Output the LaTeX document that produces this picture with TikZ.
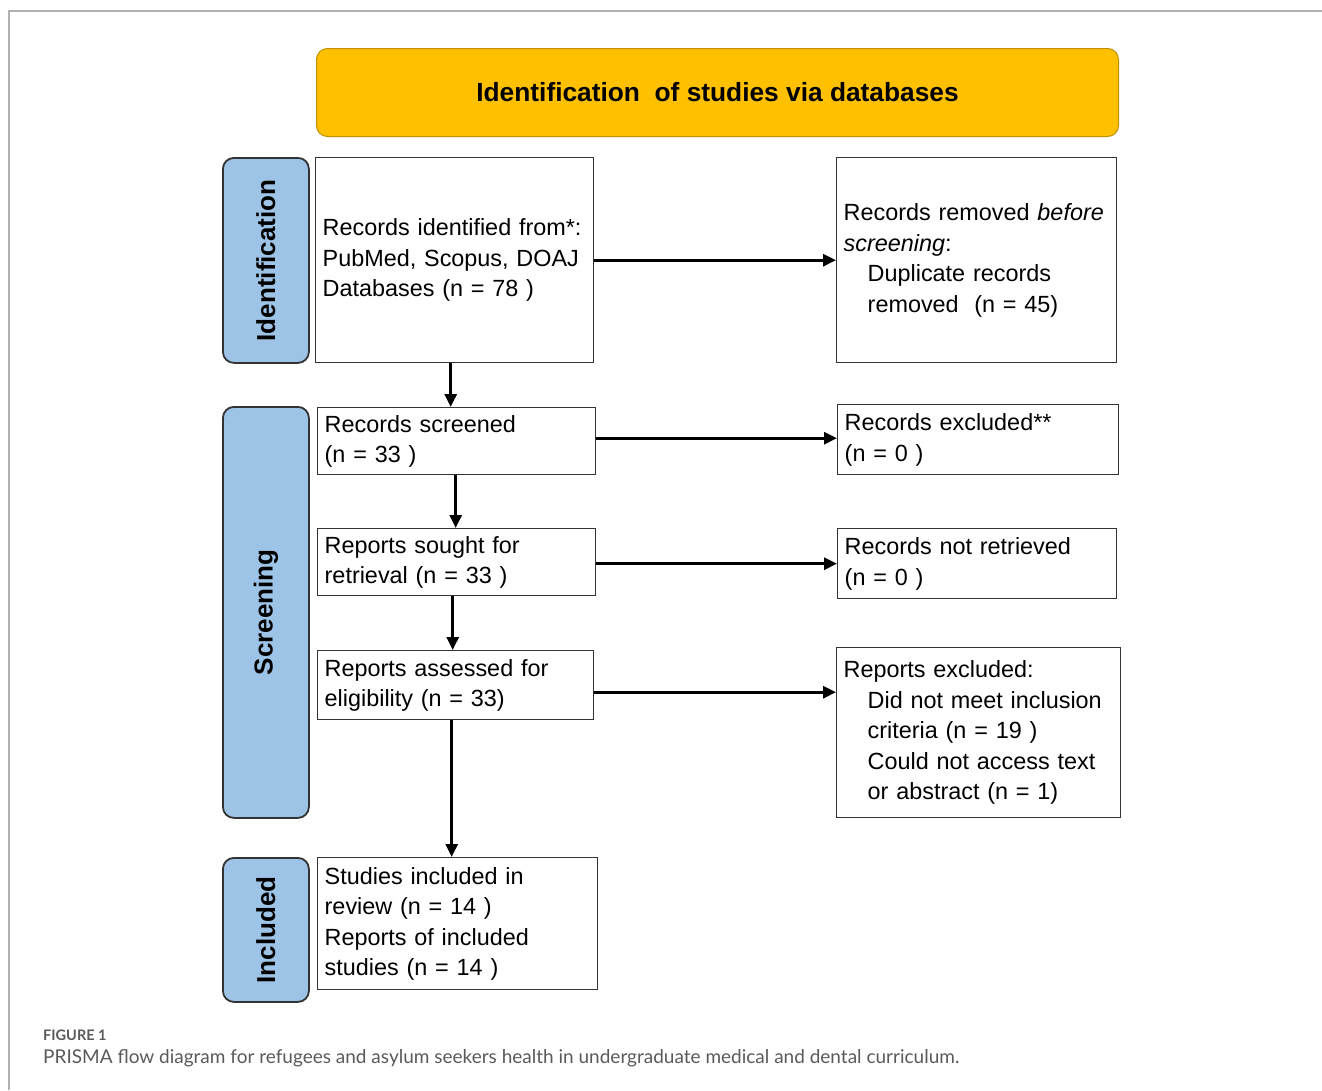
\documentclass[tikz,border=0pt]{standalone}
\usepackage{fontspec}
\setmainfont{Liberation Sans}
\newfontfamily\capfont{Lato}
\usetikzlibrary{arrows.meta}
\definecolor{hdr}{HTML}{FFC000}
\definecolor{hdrline}{HTML}{C09000}
\definecolor{barfill}{HTML}{9DC3E6}
\definecolor{edge}{HTML}{333333}
\definecolor{framecol}{HTML}{B0B0B0}
\definecolor{captxt}{HTML}{5A5A5A}
\begin{document}
\begin{tikzpicture}[x=1pt,y=-1pt,
  box/.style n args={2}{draw=edge,line width=1.4pt,anchor=north west,align=left,
    inner xsep=7pt,inner ysep=0pt,text width=#1,minimum height=#2,
    font=\fontsize{23.4}{30.5}\selectfont,text=black},
  sidebar/.style n args={2}{draw=edge,fill=barfill,line width=1.8pt,rounded corners=11pt,
    anchor=north west,inner sep=0pt,minimum width=#1,minimum height=#2},
  sidelabel/.style={rotate=90,font=\bfseries\fontsize{26}{30}\selectfont},
  arr/.style={line width=2.8pt,-{Triangle[length=13pt,width=12pt]}}]
\useasboundingbox (0,0) rectangle (1322,1090);
\draw[framecol,line width=1.5pt] (1322,11) -- (9,11) -- (9,1090);

% header
\node[draw=hdrline,fill=hdr,line width=1pt,rounded corners=11pt,anchor=north west,
  minimum width=802pt,minimum height=88pt,inner sep=0pt,
  font=\bfseries\fontsize{26.3}{30}\selectfont] (hdr) at (316,48)
  {Identification\ \ of studies via databases};

% side bars
\node[sidebar={86pt}{205pt}] (sbid) at (222,157) {};
\node[sidelabel] at (sbid.center) {Identification};
\node[sidebar={86pt}{411pt}] (sbscr) at (222,406) {};
\node[sidelabel] at (sbscr.center) {Screening};
\node[sidebar={86pt}{144pt}] (sbinc) at (222,857) {};
\node[sidelabel] at (sbinc.center) {Included};

% boxes
\node[box={264pt}{205pt}] (id1) at (315,157)
  {Records identified from*:\\PubMed, Scopus, DOAJ\\Databases (n = 78 )};
\node[box={266pt}{205pt}] (rem) at (836,157)
  {Records removed \textit{before}\\\textit{screening}:\\\hspace*{24pt}Duplicate records\\\hspace*{24pt}removed\ \ (n = 45)};
\node[box={264pt}{67pt}] (scr) at (317,407)
  {Records screened\\(n = 33 )};
\node[box={267pt}{70pt}] (exc) at (837,404)
  {Records excluded**\\(n = 0 )};
\node[box={264pt}{67pt}] (sought) at (317,528)
  {Reports sought for\\retrieval (n = 33 )};
\node[box={265pt}{70pt}] (notret) at (837,528)
  {Records not retrieved\\(n = 0 )};
\node[box={262pt}{69pt}] (assess) at (317,650)
  {Reports assessed for\\eligibility (n = 33)};
\node[box={270pt}{170pt}] (repexc) at (836,647)
  {Reports excluded:\\\hspace*{24pt}Did not meet inclusion\\\hspace*{24pt}criteria (n = 19 )\\\hspace*{24pt}Could not access text\\\hspace*{24pt}or abstract (n = 1)};
\node[box={266pt}{132pt}] (incl) at (317,857)
  {Studies included in\\review (n = 14 )\\Reports of included\\studies (n = 14 )};

% arrows
\draw[arr] (id1.east) -- (rem.west);
\draw[arr] ([yshift=3pt]scr.east) -- ([yshift=3pt]scr.east -| exc.west);
\draw[arr] ([yshift=-1.5pt]sought.east) -- ([yshift=-1.5pt]sought.east -| notret.west);
\draw[arr] ([yshift=-7pt]assess.east) -- ([yshift=-7pt]assess.east -| repexc.west);
\draw[arr] ([xshift=-4pt]id1.south) -- ([xshift=-4pt]id1.south |- scr.north);
\draw[arr] ([xshift=-1pt]scr.south) -- ([xshift=-1pt]scr.south |- sought.north);
\draw[arr] ([xshift=-4pt]sought.south) -- ([xshift=-4pt]sought.south |- assess.north);
\draw[arr] ([xshift=-4pt]assess.south) -- ([xshift=-4pt]assess.south |- incl.north);

% caption
\node[anchor=base west,inner sep=0pt,text=captxt,font=\capfont\bfseries\fontsize{14.5}{16}\selectfont] (fig) at (43,1040) {FIGURE 1};
\node[anchor=base west,inner sep=0pt,text=captxt,font=\capfont\fontsize{19}{22}\selectfont] (cap) at (43,1063)
  {PRISMA flow diagram for refugees and asylum seekers health in undergraduate medical and dental curriculum.};
\end{tikzpicture}
\end{document}
